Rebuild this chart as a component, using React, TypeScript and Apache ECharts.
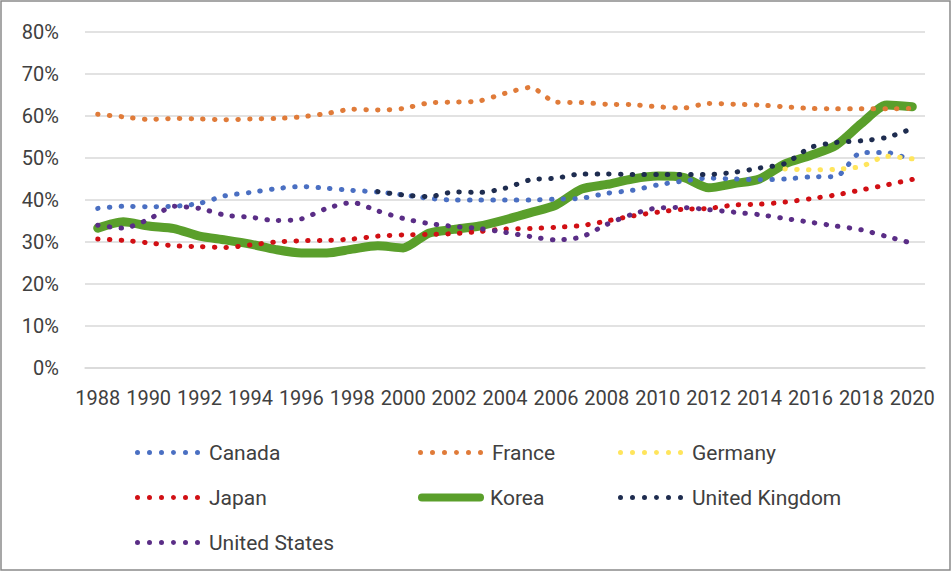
import React, { useEffect, useRef } from "react";
import * as echarts from "echarts";

const years = [
  "1988", "1989", "1990", "1991", "1992", "1993", "1994", "1995", "1996", "1997", "1998",
  "1999", "2000", "2001", "2002", "2003", "2004", "2005", "2006", "2007", "2008", "2009",
  "2010", "2011", "2012", "2013", "2014", "2015", "2016", "2017", "2018", "2019", "2020",
];

const yTicks = [0, 10, 20, 30, 40, 50, 60, 70, 80];

const canada = [38.0, 38.5, 38.4, 38.5, 39.2, 41.0, 41.8, 42.7, 43.2, 42.8, 42.3, 41.9, 41.2, 40.4, 40.0, 40.0, 40.0, 40.0, 40.2, 40.4, 41.6, 42.3, 43.6, 44.5, 45.2, 45.0, 44.8, 45.0, 45.5, 45.6, 51.3, 51.3, 49.4];
const france = [60.4, 59.8, 59.2, 59.4, 59.3, 59.1, 59.3, 59.4, 59.8, 60.6, 61.6, 61.4, 61.8, 63.1, 63.3, 63.6, 65.4, 66.8, 63.3, 63.2, 62.8, 62.7, 62.2, 61.9, 63.0, 62.8, 62.6, 62.2, 61.8, 61.7, 61.7, 61.7, 61.8];
const germany = [null, null, null, null, null, null, null, null, null, null, null, null, null, null, null, null, null, null, null, null, null, null, null, null, null, null, null, 47.4, 47.2, 47.3, 48.0, 50.4, 49.8];
const japan = [30.7, 30.4, 29.8, 29.1, 28.9, 28.7, 29.3, 30.0, 30.3, 30.4, 30.7, 31.4, 31.7, 31.8, 32.0, 32.5, 33.1, 33.2, 33.5, 33.9, 35.0, 36.2, 37.1, 37.8, 38.0, 38.8, 39.0, 39.5, 40.3, 41.2, 42.4, 43.6, 44.9];
const korea = [33.3, 34.8, 33.8, 33.2, 31.4, 30.5, 29.5, 28.2, 27.4, 27.4, 28.3, 29.1, 28.6, 32.1, 33.0, 33.8, 35.3, 37.0, 38.8, 42.6, 43.7, 45.0, 45.7, 45.4, 42.9, 43.9, 45.0, 48.6, 50.6, 53.0, 58.2, 62.6, 62.2];
const unitedKingdom = [null, null, null, null, null, null, null, null, null, null, null, 42.0, 41.2, 40.8, 41.9, 41.8, 42.8, 44.8, 45.2, 46.2, 46.2, 46.1, 46.1, 46.1, 46.1, 46.6, 47.6, 48.7, 52.5, 53.7, 54.1, 54.9, 57.0];
const unitedStates = [34.0, 33.3, 35.4, 38.5, 38.0, 36.4, 35.9, 35.1, 35.5, 38.0, 39.4, 37.4, 35.6, 34.4, 33.7, 33.2, 32.3, 31.3, 30.5, 31.2, 34.2, 36.6, 38.1, 38.2, 37.7, 37.1, 36.5, 35.6, 34.7, 33.8, 32.9, 31.3, 29.7];

const seriesNames = ["Canada", "France", "Germany", "Japan", "Korea", "United Kingdom", "United States"];
const seriesData = [canada, france, germany, japan, korea, unitedKingdom, unitedStates];
const seriesColors = ["#4a6fc2", "#e07b39", "#ffe55c", "#d10f14", "#5a9f2b", "#1e2c4f", "#5a2d86"];

const FONT = "Roboto, 'Liberation Sans', sans-serif";

// legend icon shapes
function dotsIcon(): string {
  let d = "";
  for (let i = 0; i < 6; i++) {
    const cx = 2.5 + 12 * i;
    d += `M${cx - 2.5} 2.5 a2.5 2.5 0 1 0 5 0 a2.5 2.5 0 1 0 -5 0 Z `;
  }
  return "path://" + d.trim();
}
const barIcon = "path://M4 0 H62 A4 4 0 0 1 62 8 H4 A4 4 0 0 1 4 0 Z";

export default function App() {
  const ref = useRef<HTMLDivElement>(null);

  useEffect(() => {
    const chart = echarts.init(ref.current!, null, { renderer: "svg" });

    const series = seriesNames.map((name, i) => {
      const isKorea = name === "Korea";
      return {
        name,
        type: "line",
        data: seriesData[i],
        symbol: "none",
        showSymbol: false,
        smooth: 0.25,
        connectNulls: false,
        color: seriesColors[i],
        itemStyle: { color: seriesColors[i] },
        lineStyle: isKorea
          ? { color: seriesColors[i], width: 9, cap: "round", join: "round" }
          : { color: seriesColors[i], width: 5, type: [0.5, 11.2], cap: "round" },
        z: isKorea ? 2 : 3,
      };
    });

    // legend positions: [left, top]
    const legendPos: Record<string, [number, number]> = {
      Canada: [130, 437],
      France: [413, 437],
      Germany: [613, 437],
      Japan: [130, 482],
      Korea: [413, 482],
      "United Kingdom": [613, 482],
      "United States": [130, 527],
    };

    const legends = seriesNames.map((name) => {
      const isKorea = name === "Korea";
      return {
        data: [{ name, icon: isKorea ? barIcon : dotsIcon() }],
        left: legendPos[name][0],
        top: legendPos[name][1],
        itemWidth: isKorea ? 68 : 65,
        itemHeight: isKorea ? 8 : 5,
        itemGap: 0,
        textStyle: { fontFamily: FONT, fontSize: 21, color: "#404040", padding: [0, 0, 0, isKorea ? 0 : 4] },
        selectedMode: false,
      };
    });

    chart.setOption({
      animation: false,
      backgroundColor: "#ffffff",
      grid: { left: 85, right: 27, top: 32, bottom: 204, containLabel: false },
      legend: legends,
      xAxis: {
        type: "category",
        data: years,
        boundaryGap: true,
        axisLine: { show: true, lineStyle: { color: "#d9d9d9", width: 1.5 } },
        axisTick: { show: false },
        axisLabel: {
          interval: 1,
          margin: 20,
          fontFamily: FONT,
          fontSize: 20,
          color: "#404040",
        },
      },
      yAxis: {
        type: "value",
        min: yTicks[0],
        max: yTicks[yTicks.length - 1],
        interval: 10,
        axisLine: { show: false },
        axisTick: { show: false },
        splitLine: { lineStyle: { color: "#d9d9d9", width: 1.5 } },
        axisLabel: {
          margin: 26,
          fontFamily: FONT,
          fontSize: 20,
          color: "#404040",
          formatter: (v: number) => `${v}%`,
        },
      },
      graphic: [
        {
          type: "rect",
          shape: { x: 1, y: 1, width: 949, height: 569 },
          style: { fill: "none", stroke: "#8a8a8a", lineWidth: 1.5 },
          silent: true,
        },
      ],
      series,
    });

    return () => chart.dispose();
  }, []);

  return (
    <div
      ref={ref}
      style={{ position: "fixed", left: 0, top: 0, width: 952, height: 572 }}
    />
  );
}
